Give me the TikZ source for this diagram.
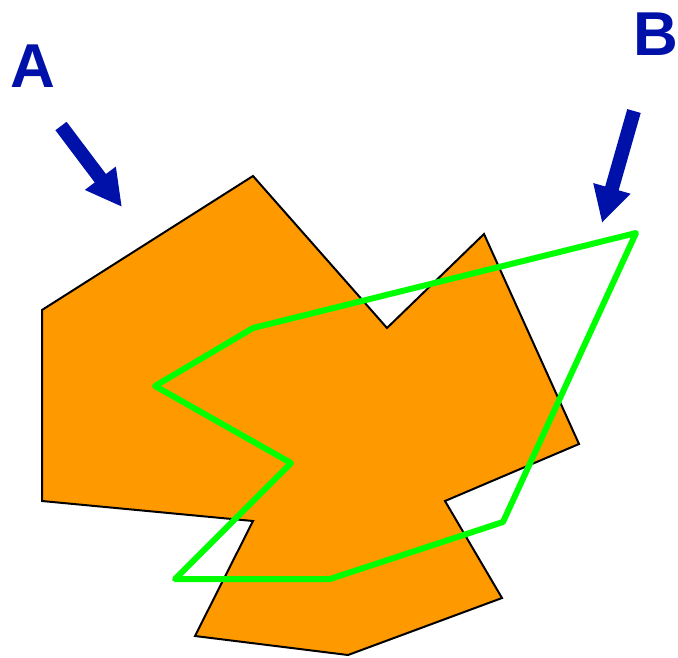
\documentclass[tikz,border=0pt]{standalone}
\usepackage{fontspec}
\setmainfont{Liberation Sans}
\usetikzlibrary{arrows.meta}
\definecolor{myorange}{RGB}{255,153,0}
\definecolor{mygreen}{RGB}{0,255,0}
\definecolor{myblue}{RGB}{0,17,170}
\tikzset{
  region/.style={fill=myorange,draw=black,line width=2pt,line join=miter},
  outline/.style={draw=mygreen,line width=6pt,line join=round,line cap=round},
  pointer/.style={draw=myblue,line width=14pt,-{Triangle[length=36pt,width=36pt]}},
  letter/.style={text=myblue,font=\bfseries\fontsize{62}{62}\selectfont,inner sep=0pt}
}
\begin{document}
\begin{tikzpicture}[x=1pt,y=-1pt]
\useasboundingbox (0,0) rectangle (678,657);
\draw[region] (42,310) -- (253,176) -- (387,328) -- (484,234) -- (579,444) -- (445,501) -- (502,598) -- (348,655) -- (195,636) -- (253,521) -- (42,501) -- cycle;
\draw[outline] (253,328) -- (636,233) -- (503,522) -- (330,579) -- (175,579) -- (291,463) -- (155,386) -- cycle;
\node[letter] (A) at (33,66) {A};
\node[letter] (B) at (656,34) {B};
\coordinate (a1) at (61,126);
\coordinate (a2) at (122,207);
\coordinate (b1) at (634,111);
\coordinate (b2) at (602,223);
\draw[pointer] (a1) -- (a2);
\draw[pointer] (b1) -- (b2);
\end{tikzpicture}
\end{document}
